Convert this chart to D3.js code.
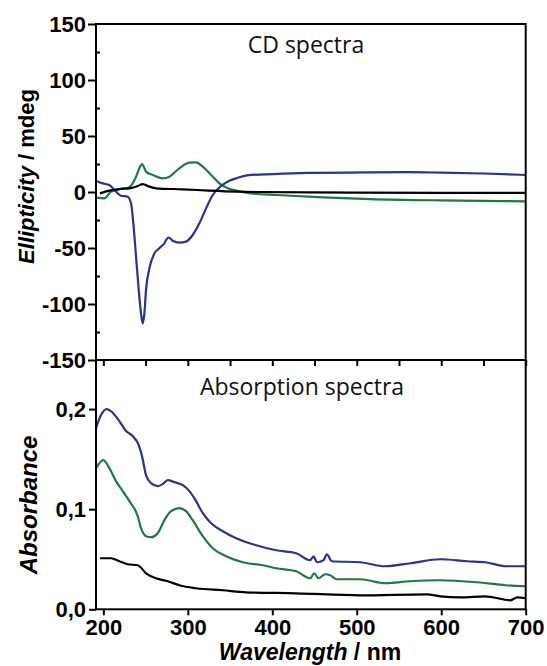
<!DOCTYPE html>
<html><head><meta charset="utf-8">
<script src="https://cdn.jsdelivr.net/npm/d3@7"></script>
<style>body{margin:0;background:#fff}svg{display:block}</style>
</head><body>
<svg id="c" width="547" height="666"></svg>
<script>
// ---- data ----
const cdBlueWl = [191.3,199.2,207.1,215,220.9,228.8,232.8,235.5,238.7,241.9,244.6,246.6,248.6,250.5,254.5,260.4,266.3,270.3,272.3,274.2,277.4,282.1,290,297.9,305.8,313.7,321.6,329.5,339.4,349.3,357.2,370,401,441,516,560,600,650,700];
const cdBlueV  = [10.1,7.7,6.25,0.3,-3.3,-4.2,-10.1,-28,-57.7,-87.5,-108.3,-117.3,-108.3,-87.5,-68.2,-54.8,-50.3,-47.3,-45.8,-42.9,-40.8,-43.5,-45.2,-44.3,-38.4,-28,-14.6,-2.7,5.4,10.1,12.2,14.9,16,17,17.6,17.7,17.3,16.5,15.2];
const cdGreenWl = [191.3,201.2,209.1,219,230.8,237.9,242.6,245.8,250.5,258.4,270.3,278.2,290,301.9,309.8,317.7,327.6,337.4,347.3,357.2,373.8,405.4,460.6,516,600,700];
const cdGreenV  = [-5.1,-5.7,0.3,2.4,4.2,12.2,21.1,25,18.2,15.2,12.2,13.7,21.1,26.2,26.5,22.6,15.2,7.7,3.3,1.2,-1.2,-2.7,-4.8,-6.3,-7.5,-8.3];
const cdBlackWl = [196,207.1,219,230.8,240.7,246.6,254.5,262.4,294,325.6,357.2,381.6,500,600,700];
const cdBlackV  = [-1.2,1.2,2.7,3.3,5.4,7.1,4.8,3.3,2.4,1.2,0.3,0,-0.5,-0.7,-0.8];

const abBlueWl = [191.3,197.2,203.9,209,218.9,226.8,234.7,241.9,245.8,250.5,256.5,264.4,270.3,276.2,284.1,294,301.9,309.8,317.7,327.6,341.4,357.2,380.9,404.6,428.3,444.9,448.8,452.7,460.6,464.6,470.5,504,533.6,563.3,598.9,630.5,652.2,676.7,700];
const abBlueV  = [0.181,0.194,0.200,0.198,0.188,0.178,0.173,0.164,0.153,0.134,0.126,0.123,0.125,0.129,0.127,0.124,0.118,0.108,0.096,0.086,0.078,0.071,0.064,0.059,0.056,0.049,0.053,0.047,0.049,0.055,0.048,0.047,0.043,0.046,0.050,0.048,0.047,0.043,0.043];
const abGreenWl = [191.3,200,207.1,215,222.9,230.8,240.7,244.6,250.5,256.5,264.4,272.3,280.2,290,297.9,305.8,317.7,329.5,345.3,365.1,388.8,404.6,428.3,444.9,449.6,454.7,462.6,468.5,476.3,504,533.6,563.3,598.9,642.4,676.7,700];
const abGreenV  = [0.141,0.149,0.141,0.128,0.118,0.108,0.093,0.081,0.073,0.072,0.076,0.089,0.098,0.101,0.098,0.089,0.073,0.061,0.053,0.047,0.044,0.041,0.038,0.031,0.036,0.031,0.035,0.034,0.030,0.030,0.026,0.028,0.029,0.027,0.024,0.023];
const abBlackWl = [196,209,218.9,228.8,240.7,250.5,262.4,276.2,290,309.8,341.4,369,428.3,504,583,598.9,622.6,652,682,690,700];
const abBlackV  = [0.051,0.051,0.048,0.045,0.044,0.036,0.031,0.028,0.024,0.021,0.019,0.017,0.016,0.014,0.015,0.013,0.012,0.013,0.009,0.012,0.011];

const xTicks = [200,300,400,500,600,700];
const cdTicks = [-150,-100,-50,0,50,100,150];
const abTicks = [0,0.1,0.2];
const colors = {blue:"#2e3192", green:"#1b7a45", black:"#000000"};

// ---- layout ----
const L = 96, R = 525.7, T1 = 24, B1 = 360, B2 = 609.3;
const svg = d3.select("#c");
const x = d3.scaleLinear().domain([191.3,700]).range([L,R]);
const yCD = d3.scaleLinear().domain([-150,150]).range([B1,T1]);
const yAB = d3.scaleLinear().domain([0,0.249]).range([B2,B1]);
const tickFont = "'Liberation Sans', Arial, sans-serif";

function series(wl, v, yS, color) {
  const line = d3.line().x(d=>x(d[0])).y(d=>yS(d[1])).curve(d3.curveMonotoneX);
  svg.append("path").datum(wl.map((w,i)=>[w,v[i]]))
    .attr("d", line).attr("fill","none").attr("stroke",color)
    .attr("stroke-width",2.2).attr("stroke-linejoin","round");
}
series(cdGreenWl, cdGreenV, yCD, colors.green);
series(cdBlueWl, cdBlueV, yCD, colors.blue);
series(cdBlackWl, cdBlackV, yCD, colors.black);
series(abBlackWl, abBlackV, yAB, colors.black);
series(abGreenWl, abGreenV, yAB, colors.green);
series(abBlueWl, abBlueV, yAB, colors.blue);

// frames
svg.append("rect").attr("x",L).attr("y",T1).attr("width",R-L).attr("height",B1-T1)
  .attr("fill","none").attr("stroke","#000").attr("stroke-width",2);
svg.append("rect").attr("x",L).attr("y",B1).attr("width",R-L).attr("height",B2-B1)
  .attr("fill","none").attr("stroke","#000").attr("stroke-width",2);

function styleAxis(g){
  g.select(".domain").remove();
  g.selectAll("line").attr("stroke","#000").attr("stroke-width",2);
  g.selectAll("text").attr("font-family",tickFont).attr("font-weight","bold")
    .attr("font-size",22).attr("fill","#000");
}
// CD y axis
svg.append("g").attr("transform",`translate(${L},0)`)
  .call(d3.axisLeft(yCD).tickValues(cdTicks).tickSize(8).tickPadding(2).tickFormat(d=>String(d)))
  .call(styleAxis);
// CD minor ticks (inward)
svg.append("g").attr("transform",`translate(${L},0)`)
  .call(d3.axisRight(yCD).tickValues([-125,-75,-25,25,75,125]).tickSize(4).tickFormat(""))
  .call(styleAxis);
// ticks on separator pointing down
svg.append("g").attr("transform",`translate(0,${B1})`)
  .call(d3.axisBottom(x).tickValues(d3.range(200,701,50)).tickSize(6).tickFormat(""))
  .call(styleAxis);
// Abs y axis
svg.append("g").attr("transform",`translate(${L},0)`)
  .call(d3.axisLeft(yAB).tickValues(abTicks).tickSize(7).tickPadding(3)
    .tickFormat(d=>d3.format(".1f")(d).replace(".",",")))
  .call(styleAxis);
// x axis
svg.append("g").attr("transform",`translate(0,${B2})`)
  .call(d3.axisBottom(x).tickValues(xTicks).tickSize(6).tickPadding(4).tickFormat(d3.format("d")))
  .call(styleAxis);

// panel titles
const titleFont = "'Open Sans', 'Noto Sans', sans-serif";
svg.append("text").attr("x",306).attr("y",53).attr("text-anchor","middle")
  .attr("font-family",titleFont).attr("font-size",23).attr("fill","#111").text("CD spectra");
svg.append("text").attr("x",302).attr("y",394.6).attr("text-anchor","middle")
  .attr("font-family",titleFont).attr("font-size",23).attr("fill","#111").text("Absorption spectra");

// axis titles
function axTitle(xp, yp, rot, size, ital, rest){
  const t = svg.append("text").attr("transform",`translate(${xp},${yp}) rotate(${rot})`)
    .attr("text-anchor","middle").attr("font-family",tickFont).attr("font-weight","bold")
    .attr("font-size",size).attr("fill","#000");
  t.append("tspan").attr("font-style","italic").text(ital);
  if (rest) t.append("tspan").text(rest);
}
axTitle(34, 176.5, -90, 22, "Ellipticity", " / mdeg");
axTitle(37, 505, -90, 24, "Absorbance", "");
axTitle(310, 660, 0, 23, "Wavelength", " / nm");
</script>
</body></html>
